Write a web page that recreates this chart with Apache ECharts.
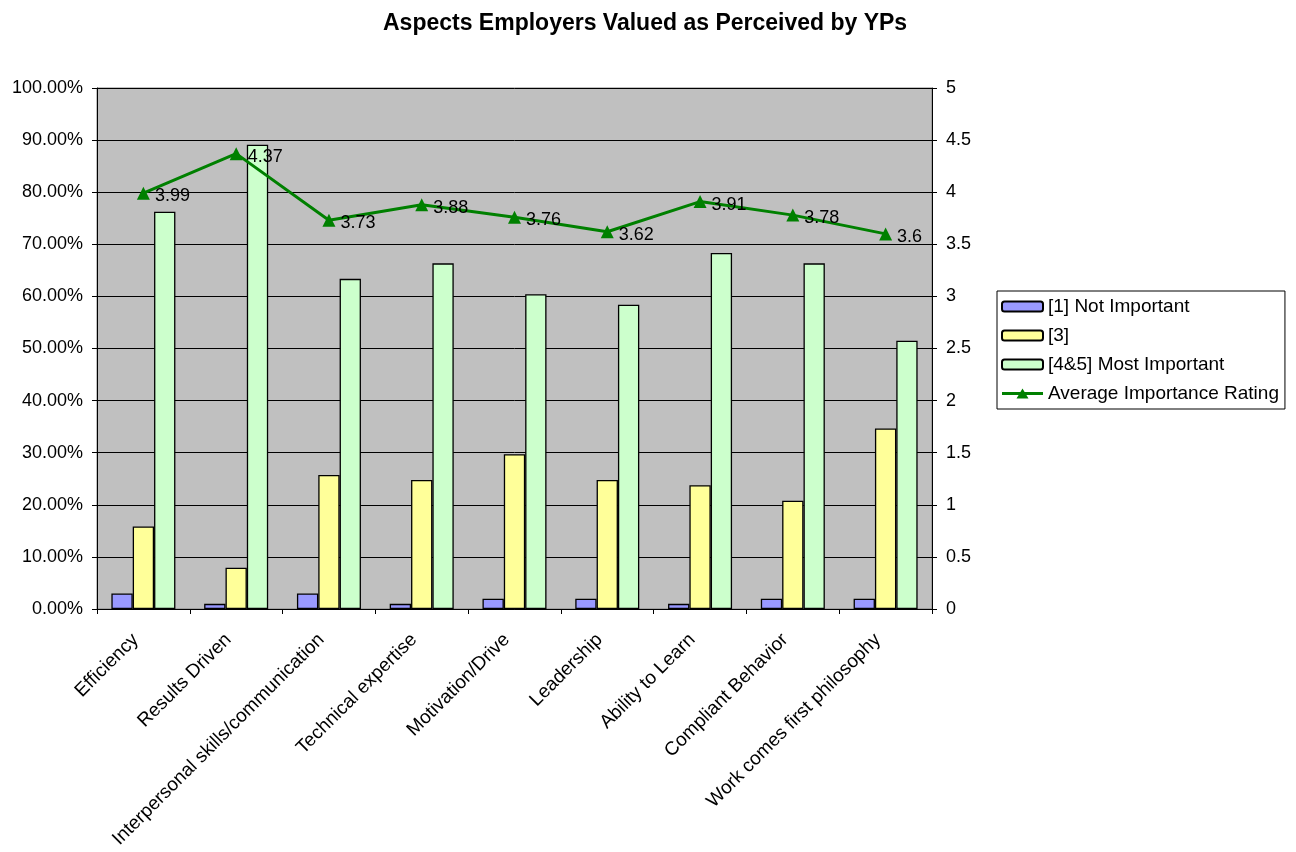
<!DOCTYPE html>
<html>
<head>
<meta charset="utf-8">
<script src="https://cdn.jsdelivr.net/npm/echarts@6/dist/echarts.min.js"></script>
<style>html,body{margin:0;padding:0;background:#fff;}#c{width:1296px;height:852px;}</style>
</head>
<body>
<div id="c"></div>
<script>
const categories = ["Efficiency","Results Driven","Interpersonal skills/communication","Technical expertise","Motivation/Drive","Leadership","Ability to Learn","Compliant Behavior","Work comes first philosophy"];
const notImportant = [2.97,0.99,2.97,0.99,1.98,1.98,0.99,1.98,1.98];
const rating3 = [15.84,7.92,25.74,24.75,29.70,24.75,23.76,20.79,34.65];
const mostImportant = [76.24,89.11,63.37,66.34,60.40,58.42,68.32,66.34,51.49];
const avgRating = [3.99,4.37,3.73,3.88,3.76,3.62,3.91,3.78,3.6];
const seriesNames = ["[1] Not Important","[3]","[4&5] Most Important","Average Importance Rating"];

const chart = echarts.init(document.getElementById('c'));
const font = 'Liberation Sans, Arial, sans-serif';
const fs = 18;
const barStyle = (c) => ({color: c, borderColor: '#000', borderWidth: 1.3});
chart.setOption({
  animation: false,
  textStyle: {fontFamily: font, color: '#000'},
  title: {
    text: 'Aspects Employers Valued as Perceived by YPs',
    left: 378, top: 7,
    textStyle: {fontFamily: font, fontSize: 23, fontWeight: 'bold', color: '#000'}
  },
  legend: {
    orient: 'vertical',
    left: 997, top: 291,
    padding: [6, 6, 6, 4],
    itemGap: 10,
    itemWidth: 41, itemHeight: 10,
    symbolKeepAspect: false,
    borderColor: '#000', borderWidth: 1,
    backgroundColor: '#fff',
    textStyle: {fontFamily: font, fontSize: 19, color: '#000'},
    data: [
      {name: seriesNames[0]},
      {name: seriesNames[1]},
      {name: seriesNames[2]},
      {name: seriesNames[3], icon: 'path://M0,3.6 H41 V6.4 H0 Z M20.5,0 L26.5,10 L14.5,10 Z'}
    ]
  },
  grid: {
    left: 97, right: 364, top: 88, bottom: 243,
    show: true, backgroundColor: '#c0c0c0', borderColor: '#808080', borderWidth: 1
  },
  xAxis: {
    type: 'category', data: categories,
    axisLine: {lineStyle: {color: '#000', width: 1}},
    axisTick: {show: true, alignWithLabel: false, length: 5, lineStyle: {color: '#000'}},
    axisLabel: {rotate: 45, fontSize: 19, color: '#000', fontFamily: font, interval: 0, margin: 20, padding: [0, 11, 0, 0]}
  },
  yAxis: [{
    type: 'value', min: 0, max: 100, interval: 10,
    axisLine: {show: true, lineStyle: {color: '#000'}},
    axisTick: {show: true, length: 5, lineStyle: {color: '#000'}},
    axisLabel: {fontSize: fs, color: '#000', fontFamily: font, margin: 14, formatter: v => v.toFixed(2) + '%'},
    splitLine: {show: true, lineStyle: {color: '#000', width: 1}}
  }, {
    type: 'value', min: 0, max: 5, interval: 0.5,
    axisLine: {show: true, lineStyle: {color: '#000'}},
    axisTick: {show: true, length: 5, lineStyle: {color: '#000'}},
    axisLabel: {fontSize: fs, color: '#000', fontFamily: font, margin: 14, formatter: v => String(v)},
    splitLine: {show: false}
  }],
  series: [
    {name: seriesNames[0], type: 'bar', data: notImportant, barGap: '0%', barCategoryGap: '31%', itemStyle: barStyle('#9999ff')},
    {name: seriesNames[1], type: 'bar', data: rating3, barGap: '0%', barCategoryGap: '31%', itemStyle: barStyle('#ffff99')},
    {name: seriesNames[2], type: 'bar', data: mostImportant, barGap: '0%', barCategoryGap: '31%', itemStyle: barStyle('#ccffcc')},
    {name: seriesNames[3], type: 'line', yAxisIndex: 1, data: avgRating,
     symbol: 'triangle', symbolSize: 13,
     lineStyle: {color: '#008000', width: 3}, itemStyle: {color: '#008000'},
     label: {show: true, position: 'right', distance: 5, fontSize: fs, color: '#000', fontFamily: font, offset: [0, 3]}
    }
  ]
});
</script>
</body>
</html>
